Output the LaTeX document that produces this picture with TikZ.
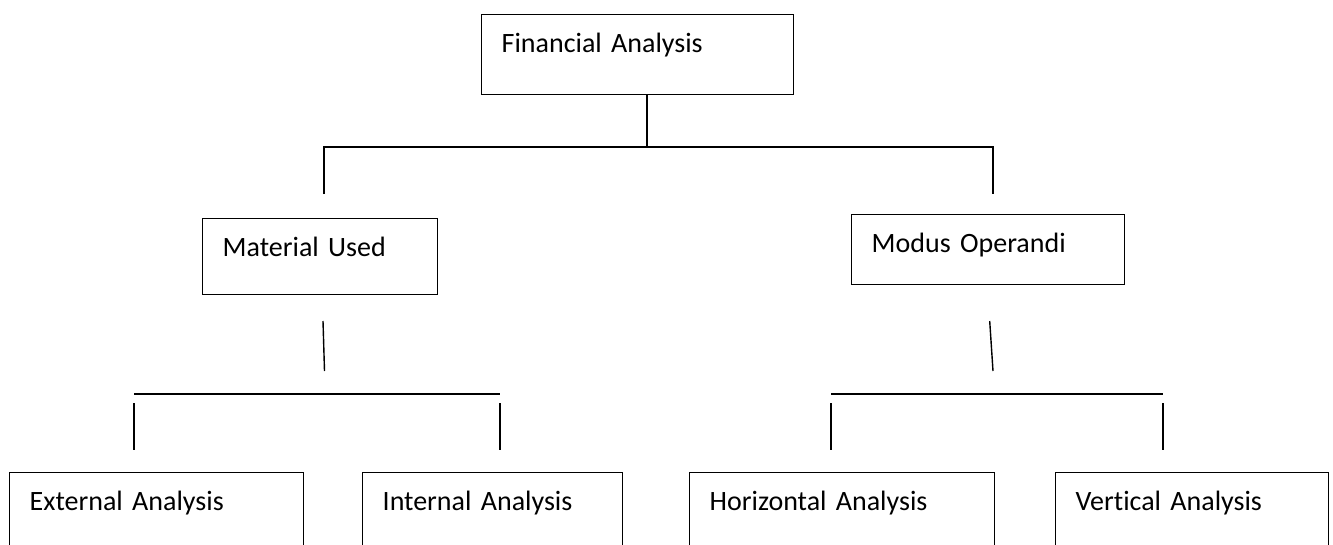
\documentclass[tikz,border=0pt]{standalone}
\usepackage{fontspec}
\setmainfont{Carlito}[Ligatures=NoCommon]
\tikzset{
    box/.style={draw, anchor=north west, inner xsep=20pt, inner ysep=0pt,
        align=left, text height=38pt, font=\fontsize{28pt}{34pt}\selectfont},
}
\begin{document}
\begin{tikzpicture}[x=1pt,y=-1pt,line width=1.4pt]
    \useasboundingbox (0,0) rectangle (1333,544);
    % boxes
    \node[box, text width=272pt, text depth=42pt] (fin) at (481,14) {Financial Analysis};
    \node[box, text width=195pt, text depth=38pt] (mat) at (202,218) {Material Used};
    \node[box, text width=233pt, text depth=32pt] (mod) at (851,214) {Modus Operandi};
    \node[box, text width=254pt, text depth=80pt] (ext) at (9,472) {External Analysis};
    \node[box, text width=220pt, text depth=80pt] (int) at (362,472) {Internal Analysis};
    \node[box, text width=265pt, text depth=80pt] (hor) at (689,472) {Horizontal Analysis};
    \node[box, text width=233pt, text depth=80pt] (ver) at (1055,472) {Vertical Analysis};
    % top bracket
    \coordinate (topbar) at (647,147);
    \coordinate (matstem) at (324,194);
    \coordinate (modstem) at (993,194);
    \draw (fin.south -| topbar) -- (topbar);
    \draw (matstem) |- (topbar) -| (modstem);
    % lower brackets
    \foreach \s/\a/\b/\l/\r in {mat/323/324.5/134/500, mod/989.7/993/831/1163}{
        \coordinate (\s cut) at (\a,321);
        \coordinate (\s join) at (\b,371);
        \coordinate (\s barl) at (\l,394);
        \coordinate (\s barr) at (\r,394);
        \draw (\s cut) -- (\s join);
        \draw (\s barl) -- (\s barr);
        \draw (\l,403) -- (\l,450);
        \draw (\r,403) -- (\r,450);
    }
\end{tikzpicture}
\end{document}
